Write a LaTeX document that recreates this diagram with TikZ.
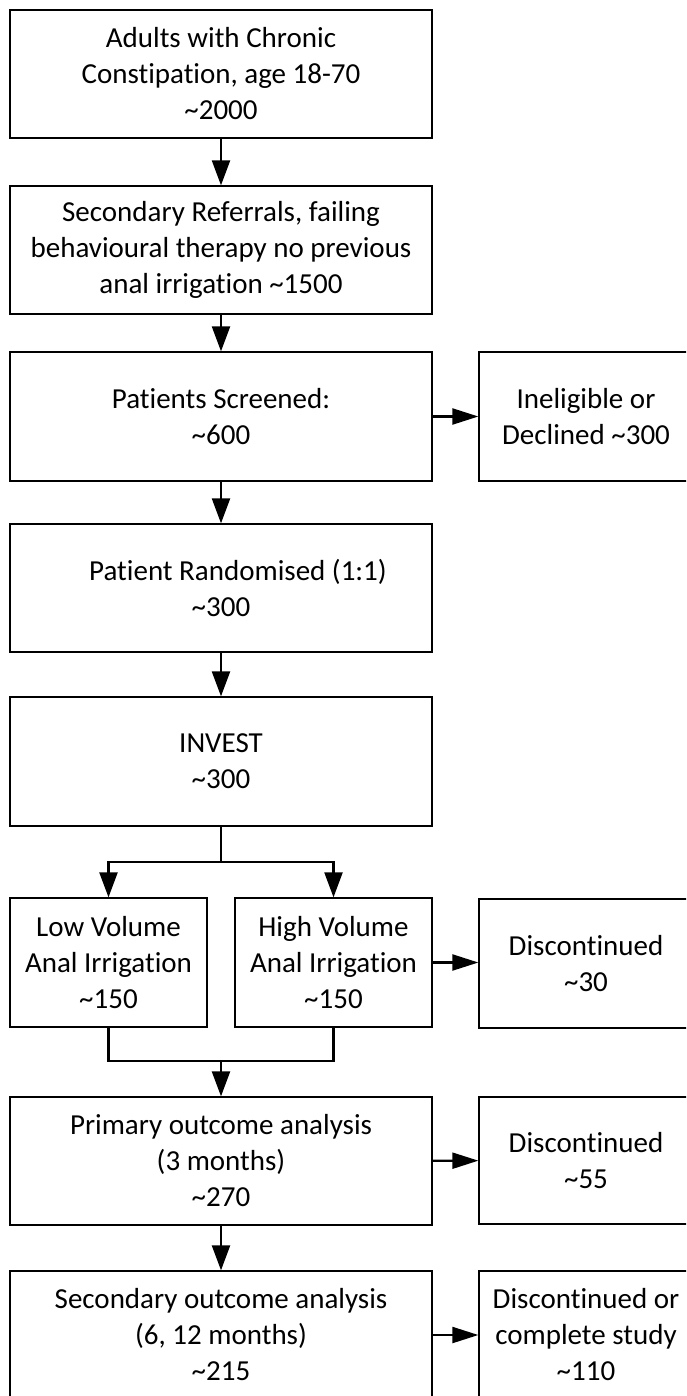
\documentclass[tikz,border=0pt]{standalone}
\usepackage{fontspec}
\setmainfont{Carlito}[Ligatures={NoCommon}]
\usetikzlibrary{arrows.meta}
\begin{document}
\begin{tikzpicture}[x=1pt,y=-1pt,
  box/.style={draw, line width=1.3pt, rectangle, inner sep=0pt, align=center,
              font=\fontsize{29}{36}\selectfont},
  mainbox/.style={box, minimum width=422pt, minimum height=128pt},
  halfbox/.style={box, minimum width=197pt, minimum height=129pt},
  sidebox/.style={box, minimum width=214pt, minimum height=129pt},
  flow/.style={line width=2.2pt, -{Triangle[length=25pt,width=18pt]}},
  sideflow/.style={line width=2.2pt, -{Triangle[length=26pt,width=16pt]}},
  link/.style={line width=2.2pt}]
\useasboundingbox (0,0) rectangle (686,1396);
\clip (0,0) rectangle (686,1396);

% main column
\node[mainbox] (adults) at (221,74) {Adults with Chronic\\Constipation, age 18-70\\\textasciitilde2000};
\node[mainbox] (referrals) at (221,250) {Secondary Referrals, failing\\behavioural therapy no previous\\anal irrigation \textasciitilde1500};
\node[mainbox, minimum height=129pt] (screened) at (221,416.5) {Patients Screened:\\\textasciitilde600};
\node[mainbox] (randomised) at (221,588) {\hspace*{34pt}Patient Randomised (1:1)\\\textasciitilde300};
\node[mainbox, minimum height=129pt] (invest) at (221,761.5) {INVEST\\\textasciitilde300};
\node[halfbox] (low) at (108.5,962.5) {Low Volume\\Anal Irrigation\\\textasciitilde150};
\node[halfbox] (high) at (333.5,962.5) {High Volume\\Anal Irrigation\\\textasciitilde150};
\node[mainbox] (primary) at (221,1161) {Primary outcome analysis\\(3 months)\\\textasciitilde270};
\node[mainbox] (secondary) at (221,1335) {Secondary outcome analysis\\(6, 12 months)\\\textasciitilde215};

% side column
\node[sidebox] (inelig) at (586,416.5) {Ineligible or\\Declined \textasciitilde300};
\node[sidebox] (disca) at (586,963.5) {Discontinued\\\textasciitilde30};
\node[sidebox, minimum height=127pt] (discb) at (586,1160.5) {Discontinued\\\textasciitilde55};
\node[sidebox, minimum height=128pt] (done) at (586,1335) {Discontinued or\\complete study\\\textasciitilde110};

% vertical flow
\draw[flow] (adults) -- (referrals);
\draw[flow] (referrals) -- (screened);
\draw[flow] (screened) -- (randomised);
\draw[flow] (randomised) -- (invest);

% split into the two arms
\coordinate (split) at (221,862);
\draw[link] (invest.south) -- (split);
\draw[flow] (split) -| (low.north);
\draw[flow] (split) -| (high.north);

% arms merge for analysis
\coordinate (merge) at (221,1061);
\draw[link] (low.south) |- (merge);
\draw[link] (high.south) |- (merge);
\draw[flow] (merge) -- (primary.north);
\draw[flow] (primary) -- (secondary);

% drop-outs
\draw[sideflow] (screened) -- (inelig);
\draw[sideflow] (high.east) -- (disca.west |- high.east);
\draw[sideflow] (primary) -- (discb);
\draw[sideflow] (secondary) -- (done);
\end{tikzpicture}
\end{document}
